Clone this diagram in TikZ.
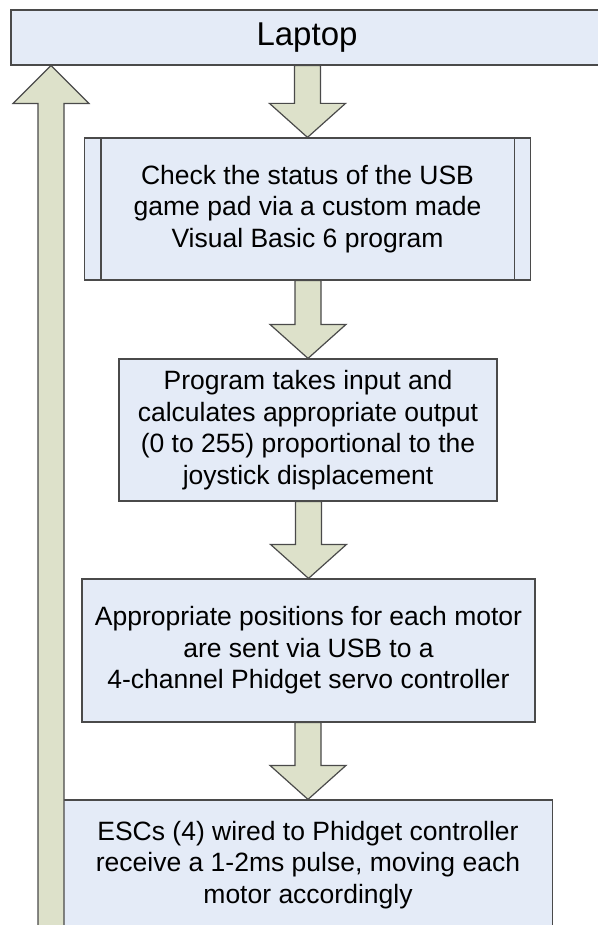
\documentclass[tikz,border=0pt]{standalone}
\usepackage{fontspec}
\setmainfont{Liberation Sans}
\usetikzlibrary{calc}
\definecolor{boxfill}{HTML}{E4EBF7}
\definecolor{arrfill}{HTML}{DDE1CA}
\definecolor{edge}{HTML}{4A4A4A}
\tikzset{
  procbox/.style={draw=edge, line width=1.2pt, fill=boxfill, inner sep=0pt, align=center,
    font=\fontsize{26.5}{31.5}\selectfont},
  barrow/.style={draw=edge, line width=1.2pt, fill=arrfill, line join=miter},
}
\newcommand\flowarrow[2]{%
  \draw[barrow] let \p1=(#1.south), \p2=(#2.north) in
    (\x2-13pt,\y1) -- (\x2-13pt,\y2+34pt) -- (\x2-38pt,\y2+34pt) -- (\x2,\y2)
    -- (\x2+38pt,\y2+34pt) -- (\x2+13pt,\y2+34pt) -- (\x2+13pt,\y1) -- cycle;}
\begin{document}
\begin{tikzpicture}[x=1pt,y=-1pt]
\useasboundingbox[fill=white] (0,0) rectangle (597,925);
\node[procbox, minimum width=592pt, minimum height=55pt, font=\fontsize{33}{38}\selectfont] (laptop) at (307,37.5) {Laptop};
\node[procbox, minimum width=446pt, minimum height=142pt] (b1) at (307.5,209)
  {Check the status of the USB\\game pad via a custom made\\Visual Basic 6 program};
\draw[draw=edge, line width=1.2pt] ([xshift=17pt]b1.north west) -- ([xshift=17pt]b1.south west)
  ([xshift=-17pt]b1.north east) -- ([xshift=-17pt]b1.south east);
\node[procbox, minimum width=378pt, minimum height=142pt] (b2) at (308,430)
  {Program takes input and\\calculates appropriate output\\(0 to 255) proportional to the\\joystick displacement};
\node[procbox, minimum width=453pt, minimum height=143pt] (b3) at (308.5,650.5)
  {Appropriate positions for each motor\\are sent via USB to a\\4-channel Phidget servo controller};
\node[procbox, minimum width=489pt, minimum height=130pt] (b4) at (308,865)
  {ESCs (4) wired to Phidget controller\\receive a 1-2ms pulse, moving each\\motor accordingly};
\flowarrow{laptop}{b1}
\flowarrow{b1}{b2}
\flowarrow{b2}{b3}
\flowarrow{b3}{b4}
\coordinate (lbot) at (51,940);
\draw[barrow] let \p1=(laptop.south -| lbot), \p2=(lbot) in
  (\x1-13pt,\y2) -- (\x1-13pt,\y1-38pt) -- (\x1-38pt,\y1-38pt) -- (\x1,\y1)
  -- (\x1+38pt,\y1-38pt) -- (\x1+13pt,\y1-38pt) -- (\x1+13pt,\y2) -- cycle;
\end{tikzpicture}
\end{document}
